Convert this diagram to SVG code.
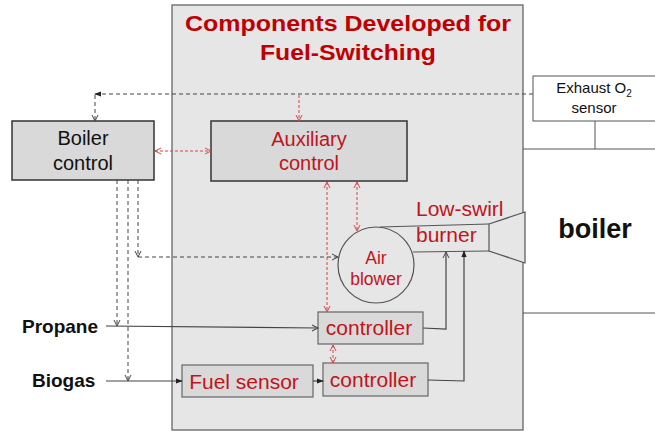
<svg xmlns="http://www.w3.org/2000/svg" width="655" height="431" viewBox="0 0 655 431">
<style>
text{font-family:"Liberation Sans",Arial,sans-serif}
.box{fill:#d9d9d9;stroke:#333;stroke-width:1.5}
.sbox{fill:#d9d9d9;stroke:#666;stroke-width:1.2}
.lbl{font-size:20px;fill:#111;text-anchor:middle}
.red{font-size:21px;fill:#c0141c}
.redc{font-size:21px;fill:#c0141c;text-anchor:middle}
.bold{font-size:19px;font-weight:bold;fill:#111}
.dash{fill:none;stroke:#444;stroke-width:1;stroke-dasharray:4 3}
.rdash{fill:none;stroke:#d64545;stroke-width:1;stroke-dasharray:3 2}
.solid{fill:none;stroke:#444;stroke-width:1.2}
.wall{fill:none;stroke:#555;stroke-width:1}
</style>
<defs>
<marker id="open" viewBox="0 0 8 8" refX="7" refY="4" markerWidth="8" markerHeight="8" markerUnits="userSpaceOnUse" orient="auto-start-reverse"><path d="M1,1 L7,4 L1,7" fill="none" stroke="#444" stroke-width="1"/></marker>
<marker id="ropen" viewBox="0 0 8 8" refX="7" refY="4" markerWidth="8" markerHeight="8" markerUnits="userSpaceOnUse" orient="auto-start-reverse"><path d="M1,1 L7,4 L1,7" fill="none" stroke="#d64545" stroke-width="1"/></marker>
<marker id="fill" viewBox="0 0 8 8" refX="7" refY="4" markerWidth="7" markerHeight="7" markerUnits="userSpaceOnUse" orient="auto-start-reverse"><path d="M0,1 L8,4 L0,7 Z" fill="#222"/></marker>
</defs>
<rect width="655" height="431" fill="#fff"/>

<g id="panel">
<rect x="172" y="5" width="351" height="425" fill="#e6e6e6" stroke="#666" stroke-width="1.3"/>
<text x="348" y="31" font-size="22" font-weight="bold" fill="#c00000" text-anchor="middle" textLength="326" lengthAdjust="spacingAndGlyphs">Components Developed for</text>
<text x="348" y="60" font-size="22" font-weight="bold" fill="#c00000" text-anchor="middle" textLength="176" lengthAdjust="spacingAndGlyphs">Fuel-Switching</text>
</g>

<g id="boiler-walls">
<line x1="523" y1="149" x2="655" y2="149" class="wall"/>
<line x1="523" y1="313" x2="655" y2="313" class="wall"/>
<line x1="595" y1="121" x2="595" y2="149" class="wall" stroke="#777"/>
<text x="595" y="238" font-size="27" font-weight="bold" fill="#111" text-anchor="middle">boiler</text>
</g>

<g id="exhaust-sensor">
<rect x="533" y="76" width="130" height="45" fill="#fff" stroke="#555" stroke-width="1"/>
<text x="594" y="93" font-size="15" fill="#111" text-anchor="middle">Exhaust O<tspan font-size="10" dy="4">2</tspan></text>
<text x="594" y="113" font-size="15" fill="#111" text-anchor="middle">sensor</text>
</g>

<g id="boiler-control">
<rect x="12" y="121" width="142" height="59" class="box"/>
<text x="83" y="145" class="lbl">Boiler</text>
<text x="83" y="170" class="lbl">control</text>
</g>

<g id="auxiliary-control">
<rect x="211" y="121" width="196" height="60" class="box"/>
<text x="309" y="146" class="lbl" style="fill:#c0141c">Auxiliary</text>
<text x="309" y="170" class="lbl" style="fill:#c0141c">control</text>
</g>

<g id="burner">
<polygon points="489,224 525,212 525,263 489,251" fill="#e6e6e6" stroke="#555" stroke-width="1.2"/>
<path d="M380,227 L489,224 M413,252 L489,251" fill="none" stroke="#555" stroke-width="1.2"/>
<text x="416" y="216" class="red">Low-swirl</text>
<text x="416" y="242" class="red">burner</text>
</g>

<g id="air-blower">
<circle cx="376" cy="265" r="38" fill="#e6e6e6" stroke="#555" stroke-width="1.2"/>
<text x="376" y="264" font-size="17.5" fill="#c0141c" text-anchor="middle">Air</text>
<text x="376" y="285" font-size="17.5" fill="#c0141c" text-anchor="middle">blower</text>
</g>

<g id="controller-propane">
<rect x="318" y="312" width="105" height="32" class="sbox"/>
<text x="369" y="335" class="redc">controller</text>
</g>

<g id="controller-biogas">
<rect x="323" y="363" width="105" height="33" class="sbox"/>
<text x="373" y="387" class="redc">controller</text>
</g>

<g id="fuel-sensor">
<rect x="182" y="365" width="131" height="32" class="sbox"/>
<text x="244" y="389" class="redc">Fuel sensor</text>
</g>

<g id="propane">
<text x="22" y="333" class="bold">Propane</text>
</g>
<g id="biogas">
<text x="32" y="387" class="bold">Biogas</text>
</g>

<g id="connectors">
<line x1="533" y1="94" x2="95" y2="94" class="dash" marker-end="url(#fill)"/>
<line x1="95" y1="95" x2="95" y2="121" class="dash" marker-end="url(#open)"/>
<line x1="299" y1="95" x2="299" y2="121" class="rdash" marker-end="url(#ropen)"/>
<line x1="155" y1="151" x2="211" y2="151" class="rdash" marker-start="url(#ropen)" marker-end="url(#ropen)"/>
<line x1="327" y1="182" x2="327" y2="312" class="rdash" marker-start="url(#ropen)" marker-end="url(#ropen)"/>
<line x1="357" y1="182" x2="357" y2="231" class="rdash" marker-start="url(#ropen)" marker-end="url(#ropen)"/>
<line x1="138" y1="180" x2="138" y2="257" class="dash" marker-end="url(#open)"/>
<line x1="138" y1="257" x2="338" y2="257" class="dash" marker-end="url(#open)"/>
<line x1="117" y1="180" x2="117" y2="326" class="dash" marker-end="url(#open)"/>
<line x1="128" y1="180" x2="128" y2="381" class="dash" marker-end="url(#open)"/>
<line x1="106" y1="326" x2="318" y2="328" class="solid" marker-end="url(#open)"/>
<line x1="106" y1="381" x2="182" y2="381" class="solid" marker-end="url(#fill)"/>
<line x1="313" y1="381" x2="323" y2="381" class="solid" marker-end="url(#fill)"/>
<line x1="333" y1="345" x2="333" y2="363" class="rdash" marker-start="url(#ropen)" marker-end="url(#ropen)"/>
<polyline points="423,328 446,329 446,252" class="solid" marker-end="url(#open)"/>
<polyline points="428,380 464,381 464,251" class="solid" marker-end="url(#fill)"/>
</g>
</svg>
